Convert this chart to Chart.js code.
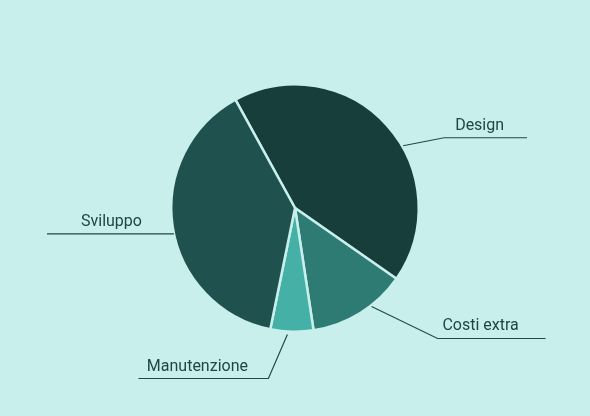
<!DOCTYPE html>
<html>
<head>
<meta charset="utf-8">
<script src="https://cdn.jsdelivr.net/npm/chart.js@4/dist/chart.umd.min.js"></script>
<style>
html,body{margin:0;padding:0;background:#c8efeb;}
#wrap{width:590px;height:416px;position:relative;}
</style>
</head>
<body>
<div id="wrap"><canvas id="c"></canvas></div>
<script>
// Data
const categories = ["Design", "Costi extra", "Manutenzione", "Sviluppo"];
const values = [42.7, 12.9, 5.6, 38.8];
const sliceColors = ["#183e3b", "#2e7b73", "#45b0a5", "#1f524e"];

// Leader-line layout hints (relative to each slice's edge point)
const labelLayout = [
  {shift: 12,   out: 1,  elbowDx: 41,  elbowDy: -8, len: 83,  textDx: -6},
  {shift: -6,   out: 1,  elbowDx: 66,  elbowDy: 32, len: 108, textDx: -11},
  {shift: 2,    out: 3,  elbowDx: -19, elbowDy: 44, len: 130, textDx: -6},
  {shift: -3.4, out: 0,  elbowDx: 0,   elbowDy: 0,  len: 127, textDx: 1}
];

const leaderPlugin = {
  id: 'leaders',
  afterDatasetsDraw(chart) {
    const ctx = chart.ctx;
    const meta = chart.getDatasetMeta(0);
    meta.data.forEach((arc, i) => {
      const L = labelLayout[i];
      const mid = (arc.startAngle + arc.endAngle) / 2 + L.shift * Math.PI / 180;
      const r = arc.outerRadius + L.out;
      const sx = arc.x + Math.cos(mid) * r;
      const sy = arc.y + Math.sin(mid) * r;
      const ex = sx + L.elbowDx;
      const ey = sy + L.elbowDy;
      const right = Math.cos(mid) >= 0;
      const hx = right ? ex + L.len : ex - L.len;
      ctx.save();
      ctx.strokeStyle = "#1f4a47";
      ctx.lineWidth = 1.2;
      ctx.beginPath();
      ctx.moveTo(sx, sy);
      ctx.lineTo(ex, ey);
      ctx.lineTo(hx, ey);
      ctx.stroke();
      ctx.fillStyle = "#1d4744";
      ctx.font = "16px Roboto";
      ctx.textAlign = "center";
      ctx.textBaseline = "alphabetic";
      ctx.fillText(categories[i], (ex + hx) / 2 + L.textDx, ey - 8);
      ctx.restore();
    });
  }
};

new Chart(document.getElementById('c'), {
  type: 'pie',
  data: {
    labels: categories,
    datasets: [{
      data: values,
      backgroundColor: sliceColors,
      borderColor: "#c8efeb",
      borderWidth: 2.5
    }]
  },
  options: {
    responsive: true,
    maintainAspectRatio: false,
    animation: false,
    rotation: -28.8,
    layout: {padding: {top: 83, bottom: 83, left: 0, right: 0}},
    plugins: {legend: {display: false}, tooltip: {enabled: false}}
  },
  plugins: [leaderPlugin]
});
</script>
</body>
</html>
